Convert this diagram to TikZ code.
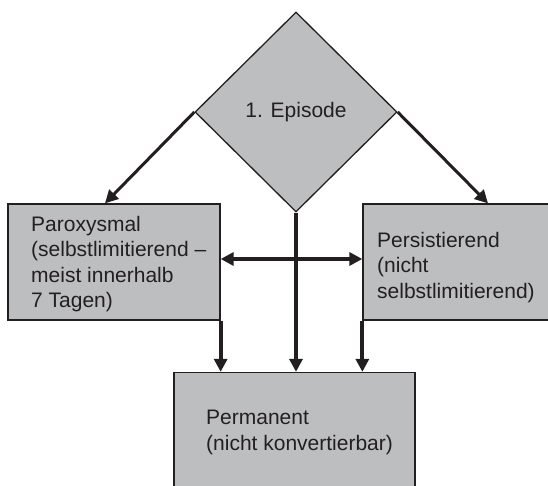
\documentclass[tikz,border=0pt]{standalone}
\usepackage{fontspec}
\setmainfont{Liberation Sans}
\usetikzlibrary{shapes.geometric,arrows.meta}
\definecolor{boxgray}{RGB}{189,190,192}
\definecolor{inkgray}{RGB}{35,31,32}
\begin{document}
\begin{tikzpicture}[x=1pt,y=-1pt,>={Triangle[length=13pt,width=13pt]},
  every node/.style={font=\fontsize{21}{25.5}\selectfont,text=inkgray},
  box/.style={draw=inkgray,line width=1.3pt,fill=boxgray,inner sep=0pt},
  txt/.style={anchor=west,align=left,inner sep=0pt},
  flow/.style={draw=inkgray,line width=4pt,->}]
  \clip (0,0) rectangle (548,486);
  % boxes
  \node[box,diamond,minimum width=202pt,minimum height=200pt] (ep) at (296,112) {1. Episode};
  \node[box,minimum width=212pt,minimum height=116pt] (para) at (114,262) {};
  \node[box,minimum width=200pt,minimum height=116pt] (pers) at (463,262) {};
  \node[box,minimum width=241pt,minimum height=128pt] (perm) at (294.5,436.5) {};
  % texts
  \node[txt] (paratext) at (31,264) {Paroxysmal\\(selbstlimitierend --\\meist innerhalb\\7 Tagen)};
  \node[txt] (perstext) at (377,267.5) {Persistierend\\(nicht\\selbstlimitierend)};
  \node[txt] (permtext) at (206,432.5) {Permanent\\(nicht konvertierbar)};
  % arrows
  \draw[flow,line width=3pt] (ep.west) -- ([xshift=-9pt]para.north);
  \draw[flow,line width=3pt] (ep.east) -- ([xshift=25pt]pers.north);
  \draw[flow,<->] ([yshift=3pt]para.east) -- ([yshift=3pt]pers.west);
  \draw[flow] (para.south east) -- (para.south east |- perm.north);
  \draw[flow] (ep.south) -- (ep.south |- perm.north);
  \draw[flow] (pers.south west) -- (pers.south west |- perm.north);
\end{tikzpicture}
\end{document}
